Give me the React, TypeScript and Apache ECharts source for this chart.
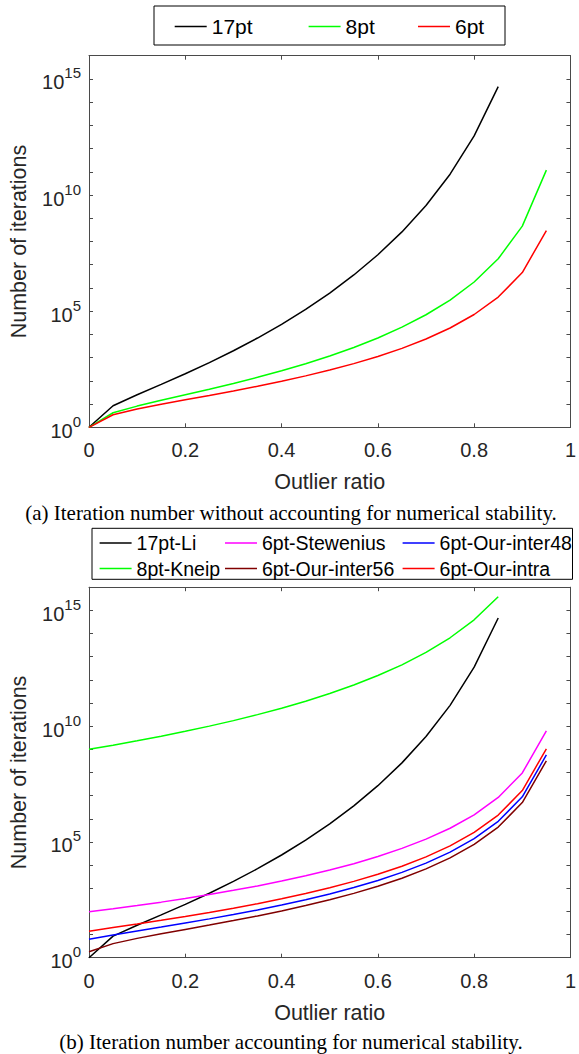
import React, { useEffect, useRef } from "react";
import * as echarts from "echarts";

// Outlier ratio sample positions (x axis)
const outlierRatios = [0, 0.05, 0.1, 0.15, 0.2, 0.25, 0.3, 0.35, 0.4, 0.45, 0.5, 0.55, 0.6, 0.65, 0.7, 0.75, 0.8, 0.85, 0.9, 0.95];

// (a) Iteration number without accounting for numerical stability
const top17pt = [1, 8.51, 25.2, 70.6, 202, 610, 1977, 6977, 27200, 119300, 603500, 3.62e6, 2.68e7, 2.59e8, 3.57e9, 7.91e10, 3.51e12, 4.67e14];
const top8pt = [1, 4.23, 8.18, 14.5, 25.1, 43.7, 77.6, 142, 272, 548, 1176, 2736, 7025, 20450, 70190, 301800, 1.8e6, 1.8e7, 4.6e8, 1.18e11];
const top6pt = [1, 3.47, 6.08, 9.73, 15.2, 23.5, 36.8, 58.7, 96.4, 164, 292, 552, 1122, 2503, 6315, 18860, 71950, 404300, 4.6e6, 2.95e8];

// (b) Iteration number accounting for numerical stability
const bottom17ptLi = [1, 8.51, 25.2, 70.6, 202, 610, 1977, 6977, 27200, 119300, 603500, 3.62e6, 2.68e7, 2.59e8, 3.57e9, 7.91e10, 3.51e12, 4.67e14];
const bottom8ptKneip = [1.0e9, 1.51e9, 2.34e9, 3.67e9, 5.96e9, 1.0e10, 1.73e10, 3.14e10, 5.96e10, 1.19e11, 2.56e11, 5.94e11, 1.53e12, 4.44e12, 1.52e13, 6.55e13, 3.91e14, 3.9e15];
const bottom6ptStewenius = [95.5, 129, 178, 251, 363, 537, 813, 1259, 2042, 3467, 6166, 11480, 23440, 52480, 131800, 389000, 1.48e6, 8.32e6, 9.55e7, 6.17e9];
const bottom6ptOurInter48 = [6.29, 9.59, 14.3, 21.1, 31.5, 47.5, 73.1, 115, 188, 318, 566, 1066, 2166, 4826, 12170, 36350, 138600, 779000, 8.87e6, 5.68e8];
const bottom6ptOurInter56 = [1.8, 4.06, 6.83, 10.8, 16.6, 25.7, 40.1, 63.8, 105, 178, 317, 599, 1216, 2714, 6844, 20440, 77960, 438000, 4.99e6, 3.19e8];
const bottom6ptOurIntra = [14.0, 20.0, 28.6, 41.3, 60.4, 90.1, 138, 216, 350, 592, 1050, 1979, 4015, 8947, 22560, 67370, 257000, 1.44e6, 1.65e7, 1.05e9];

const topLegendNames = ["17pt", "8pt", "6pt"];
const bottomLegendColumns = [
  ["17pt-Li", "8pt-Kneip"],
  ["6pt-Stewenius", "6pt-Our-inter56"],
  ["6pt-Our-inter48", "6pt-Our-intra"],
];
const xAxisTitle = "Outlier ratio";
const yAxisTitle = "Number of iterations";
const captionA = "(a) Iteration number without accounting for numerical stability.";
const captionB = "(b) Iteration number accounting for numerical stability.";

const SANS = "'Liberation Sans', Arial, Helvetica, sans-serif";
const SERIF = "'Liberation Serif', 'Times New Roman', serif";
const AXIS_COLOR = "#4a4a4a";
const TEXT_COLOR = "#262626";

const pairs = (vals: number[]) => vals.map((v, i) => [outlierRatios[i], v]);

function App() {
  const ref = useRef<HTMLDivElement>(null);

  useEffect(() => {
    if (!ref.current) return;
    const chart = echarts.init(ref.current, undefined, { renderer: "svg" });

    const grids = [
      { left: 87.5, top: 55.7, width: 485.5, height: 371.6 },
      { left: 87.5, top: 587.2, width: 485.5, height: 370.5 },
    ];

    const xAxes: any[] = [];
    const yAxes: any[] = [];
    grids.forEach((_, g) => {
      const axisLine = { show: true, onZero: false, lineStyle: { color: AXIS_COLOR, width: 1 } };
      const axisTick = { show: true, inside: true, length: 4, lineStyle: { color: AXIS_COLOR, width: 1 } };
      xAxes.push({
        type: "value",
        gridIndex: g,
        position: "bottom",
        min: 0,
        max: 1,
        interval: 0.2,
        axisLine,
        axisTick,
        splitLine: { show: false },
        axisLabel: { margin: 13, fontSize: 20, color: TEXT_COLOR, fontFamily: SANS },
        name: xAxisTitle,
        nameLocation: "middle",
        nameGap: 44,
        nameTextStyle: { fontSize: 21.5, color: TEXT_COLOR, fontFamily: SANS },
      });
      xAxes.push({
        type: "value",
        gridIndex: g,
        position: "top",
        min: 0,
        max: 1,
        interval: 0.2,
        axisLine,
        axisTick,
        splitLine: { show: false },
        axisLabel: { show: false },
      });
      yAxes.push({
        type: "log",
        logBase: 10,
        gridIndex: g,
        position: "left",
        min: 1,
        max: 1e16,
        interval: 1,
        splitNumber: 16,
        axisLine,
        axisTick,
        splitLine: { show: false },
        axisLabel: {
          margin: 8,
          color: TEXT_COLOR,
          fontFamily: SANS,
          formatter: (v: number) => {
            const k = Math.round(Math.log10(v));
            return k % 5 === 0 ? `{b|10}{s|${k}}` : "";
          },
          rich: {
            b: { fontSize: 20, fontFamily: SANS, color: TEXT_COLOR, verticalAlign: "bottom", lineHeight: 27 },
            s: { fontSize: 15, fontFamily: SANS, color: TEXT_COLOR, verticalAlign: "top", lineHeight: 27 },
          },
        },
        name: yAxisTitle,
        nameLocation: "middle",
        nameGap: 59,
        nameTextStyle: { fontSize: 21.5, color: TEXT_COLOR, fontFamily: SANS },
      });
      yAxes.push({
        type: "log",
        logBase: 10,
        gridIndex: g,
        position: "right",
        min: 1,
        max: 1e16,
        interval: 1,
        splitNumber: 16,
        axisLine,
        axisTick,
        splitLine: { show: false },
        axisLabel: { show: false },
      });
    });

    const line = (name: string, color: string, vals: number[], g: number) => ({
      name,
      type: "line",
      xAxisIndex: g * 2,
      yAxisIndex: g * 2,
      data: pairs(vals),
      symbol: "none",
      lineStyle: { color, width: 1.5 },
      itemStyle: { color },
      z: 3,
    });

    const series = [
      line("17pt", "#000000", top17pt, 0),
      line("8pt", "#00ff00", top8pt, 0),
      line("6pt", "#ff0000", top6pt, 0),
      line("17pt-Li", "#000000", bottom17ptLi, 1),
      line("8pt-Kneip", "#00ff00", bottom8ptKneip, 1),
      line("6pt-Stewenius", "#ff00ff", bottom6ptStewenius, 1),
      line("6pt-Our-inter48", "#0000ff", bottom6ptOurInter48, 1),
      line("6pt-Our-inter56", "#800000", bottom6ptOurInter56, 1),
      line("6pt-Our-intra", "#ff0000", bottom6ptOurIntra, 1),
    ];

    const legendBase = {
      icon: "rect",
      itemWidth: 32,
      itemHeight: 1.5,
      padding: 0,
      selectedMode: false,
    };
    const topLegendLefts = [174.7, 308.6, 418];
    const bottomLegendLefts = [99.6, 225, 402.6];
    const legends: any[] = [
      ...topLegendNames.map((n, i) => ({
        ...legendBase,
        data: [n],
        left: topLegendLefts[i],
        top: 16,
        textStyle: { fontSize: 21, color: "#000", fontFamily: SANS },
      })),
      ...bottomLegendColumns.map((col, i) => ({
        ...legendBase,
        orient: "vertical",
        data: col,
        left: bottomLegendLefts[i],
        top: 533,
        itemGap: 5.5,
        textStyle: { fontSize: 19.5, color: "#000", fontFamily: SANS },
      })),
    ];

    chart.setOption({
      animation: false,
      backgroundColor: "#ffffff",
      grid: grids,
      xAxis: xAxes,
      yAxis: yAxes,
      legend: legends,
      series,
      graphic: [
        {
          type: "rect",
          z: 0,
          shape: { x: 154, y: 6, width: 351, height: 39 },
          style: { fill: "none", stroke: "#000", lineWidth: 1 },
        },
        {
          type: "rect",
          z: 0,
          shape: { x: 92, y: 528.3, width: 480.5, height: 51 },
          style: { fill: "none", stroke: "#000", lineWidth: 1 },
        },
        {
          type: "text",
          style: {
            text: captionA,
            x: 291,
            y: 512.7,
            textAlign: "center",
            textVerticalAlign: "middle",
            fontSize: 21,
            fontFamily: SERIF,
            fill: "#000",
          },
        },
        {
          type: "text",
          style: {
            text: captionB,
            x: 291,
            y: 1042.3,
            textAlign: "center",
            textVerticalAlign: "middle",
            fontSize: 21,
            fontFamily: SERIF,
            fill: "#000",
          },
        },
      ],
    });

    return () => chart.dispose();
  }, []);

  return <div ref={ref} style={{ position: "absolute", left: 0, top: 0, width: 579, height: 1054 }} />;
}

export default App;
